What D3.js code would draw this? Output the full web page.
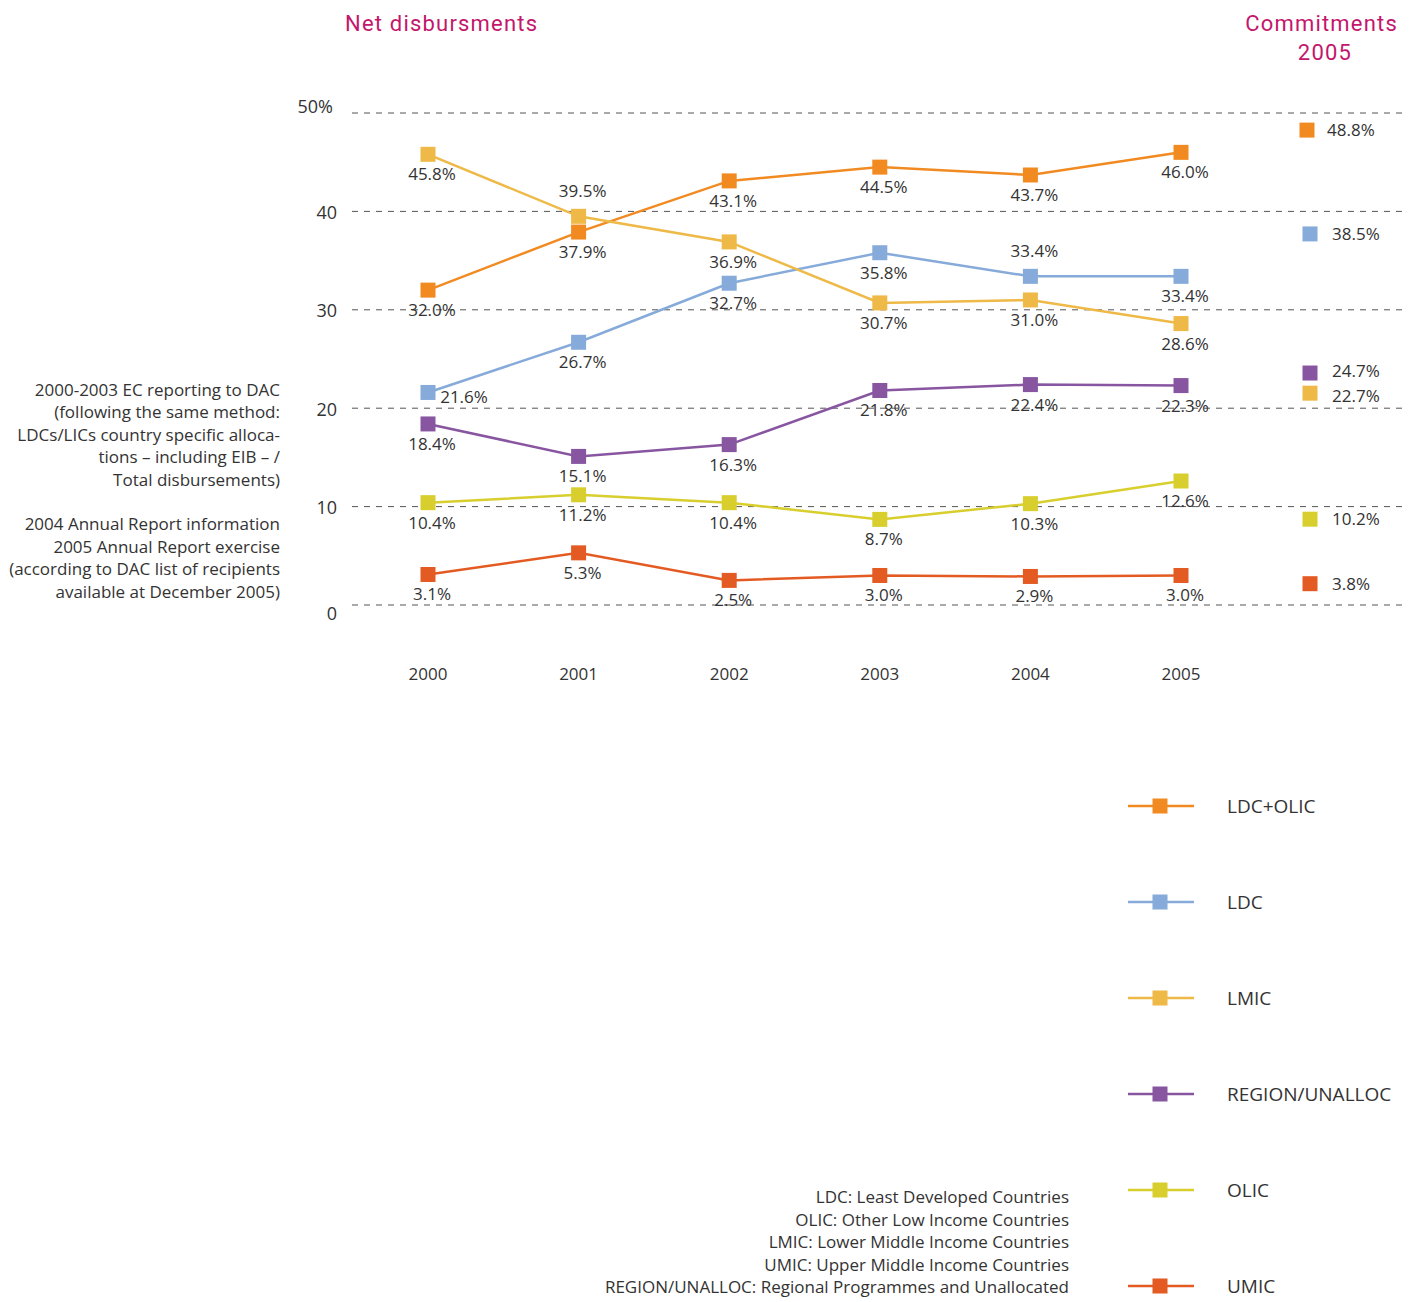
<!DOCTYPE html>
<html>
<head>
<meta charset="utf-8">
<script src="https://cdn.jsdelivr.net/npm/d3@7"></script>
<style>
  html, body { margin: 0; padding: 0; background: #fff; }
  svg { display: block; font-family: "Open Sans", "DejaVu Sans", sans-serif; }
</style>
</head>
<body>
<svg id="chart" width="1409" height="1302"></svg>
<script>
// Years on the x axis
const years = ["2000", "2001", "2002", "2003", "2004", "2005"];

// Share of net disbursements (%) per income group
const ldcOlic = [32.0, 37.9, 43.1, 44.5, 43.7, 46.0];
const ldc     = [21.6, 26.7, 32.7, 35.8, 33.4, 33.4];
const lmic    = [45.8, 39.5, 36.9, 30.7, 31.0, 28.6];
const region  = [18.4, 15.1, 16.3, 21.8, 22.4, 22.3];
const olic    = [10.4, 11.2, 10.4, 8.7, 10.3, 12.6];
const umic    = [3.1, 5.3, 2.5, 3.0, 2.9, 3.0];

// Commitments 2005 (%)
const commitments = [48.8, 38.5, 22.7, 24.7, 10.2, 3.8];

// Series names
const seriesNames = ["LDC+OLIC", "LDC", "LMIC", "REGION/UNALLOC", "OLIC", "UMIC"];

// Y axis ticks
const yTicks = [0, 10, 20, 30, 40, 50];

const colors = ["#f28a22", "#86aad9", "#eeb947", "#8856a1", "#d8cf2f", "#e35b22"];

const notesLeft = [
  "2000-2003 EC reporting to DAC",
  "(following the same method:",
  "LDCs/LICs country specific alloca-",
  "tions \u2013 including EIB \u2013 /",
  "Total disbursements)",
  "",
  "2004 Annual Report information",
  "2005 Annual Report exercise",
  "(according to DAC list of recipients",
  "available at December 2005)"
];

const glossary = [
  "LDC: Least Developed Countries",
  "OLIC: Other Low Income Countries",
  "LMIC: Lower Middle Income Countries",
  "UMIC: Upper Middle Income Countries",
  "REGION/UNALLOC: Regional Programmes and Unallocated"
];

const seriesValues = [ldcOlic, ldc, lmic, region, olic, umic];
const series = seriesNames.map((name, i) => ({
  name, color: colors[i], values: seriesValues[i], commit: commitments[i]
}));

// Labels drawn above their marker instead of below
const labelAbove = { "LMIC": [1], "LDC": [4] };

const svg = d3.select("#chart");
const textColor = "#333";

const x = d3.scalePoint().domain(years).range([428, 1181]);
const y = d3.scaleLinear().domain([0, 50]).range([605, 113]);
// The commitments column is laid out on its own vertical scale
const yCommit = d3.scaleLinear().domain([0, 50]).range([622, 118]);
const commitX = 1307;

// Titles
const titleStyle = sel => sel.attr("fill", "#c3166c")
  .attr("font-family", "Roboto, sans-serif")
  .attr("font-size", 22).attr("letter-spacing", 1.2);
svg.append("text").attr("x", 345).attr("y", 31).call(titleStyle)
  .text("Net disbursments");
svg.append("text").attr("x", 1398).attr("y", 31).attr("text-anchor", "end")
  .call(titleStyle).text("Commitments");
svg.append("text").attr("x", 1325).attr("y", 60).attr("text-anchor", "middle")
  .call(titleStyle).text("2005");

// Dashed grid lines and y tick labels
const grid = svg.append("g");
grid.selectAll("line").data(yTicks).join("line")
  .attr("x1", 352).attr("x2", 1402)
  .attr("y1", d => y(d)).attr("y2", d => y(d))
  .attr("stroke", "#555").attr("stroke-width", 1)
  .attr("stroke-dasharray", "6,6");
grid.selectAll("text").data(yTicks).join("text")
  .attr("x", d => d === 50 ? 333 : 337)
  .attr("y", d => y(d) + (d === 50 ? -6 : d === 0 ? 9 : 1))
  .attr("dy", "0.35em").attr("text-anchor", "end")
  .attr("font-size", 18).attr("fill", textColor)
  .text(d => d === 50 ? "50%" : d);

// X axis year labels
svg.append("g").selectAll("text").data(years).join("text")
  .attr("x", d => x(d)).attr("y", 680)
  .attr("text-anchor", "middle").attr("font-size", 17).attr("fill", textColor)
  .text(d => d);

// Lines
const line = d3.line().x((d, i) => x(years[i])).y(d => y(d));
const M = 15;
const plot = svg.append("g");
series.forEach(s => {
  plot.append("path").datum(s.values)
    .attr("d", line).attr("fill", "none")
    .attr("stroke", s.color).attr("stroke-width", 2.5);
});
// Markers
series.forEach(s => {
  plot.append("g").selectAll("rect").data(s.values).join("rect")
    .attr("x", (d, i) => x(years[i]) - M / 2)
    .attr("y", d => y(d) - M / 2)
    .attr("width", M).attr("height", M)
    .attr("fill", s.color);
});
// Value labels
series.forEach(s => {
  const above = labelAbove[s.name] || [];
  plot.append("g").selectAll("text").data(s.values).join("text")
    .attr("x", (d, i) => x(years[i]) + (s.name === "LDC" && i === 0 ? 36 : 4))
    .attr("y", (d, i) => y(d) + (above.includes(i) ? -19 : (s.name === "LDC" && i === 0 ? 11 : 26)))
    .attr("text-anchor", "middle").attr("font-size", 17).attr("fill", textColor)
    .text(d => d.toFixed(1) + "%");
});

// Commitments 2005 column: markers on the scale, labels spread apart when crowded
const commitItems = series.map(s => ({ s, ym: yCommit(s.commit), yl: yCommit(s.commit) }))
  .sort((a, b) => a.ym - b.ym);
const minGap = 25;
for (let i = 1; i < commitItems.length; i++) {
  const gap = commitItems[i].yl - commitItems[i - 1].yl;
  if (gap < minGap) {
    const push = (minGap - gap) / 2;
    commitItems[i - 1].yl -= push;
    commitItems[i].yl += push;
  }
}
const com = svg.append("g");
commitItems.forEach(({ s, ym, yl }) => {
  com.append("rect")
    .attr("x", commitX - M / 2 + (s.name === "LDC+OLIC" ? 0 : 3))
    .attr("y", ym - M / 2)
    .attr("width", M).attr("height", M).attr("fill", s.color);
  com.append("text")
    .attr("x", commitX + (s.name === "LDC+OLIC" ? 20 : 25)).attr("y", yl)
    .attr("dy", "0.35em").attr("font-size", 17).attr("fill", textColor)
    .text(s.commit.toFixed(1) + "%");
});

// Left notes
svg.append("g").selectAll("text").data(notesLeft).join("text")
  .attr("x", 280).attr("y", (d, i) => 396 + i * 22.4)
  .attr("text-anchor", "end").attr("font-size", 17).attr("fill", textColor)
  .text(d => d);

// Legend
const ly = d3.scalePoint().domain(seriesNames).range([806, 1286]);
const legend = svg.append("g");
series.forEach(s => {
  const g = legend.append("g").attr("transform", `translate(0,${ly(s.name)})`);
  g.append("line").attr("x1", 1128).attr("x2", 1194).attr("y1", 0).attr("y2", 0)
    .attr("stroke", s.color).attr("stroke-width", 2.5);
  g.append("rect").attr("x", 1160 - M / 2).attr("y", -M / 2)
    .attr("width", M).attr("height", M).attr("fill", s.color);
  g.append("text").attr("x", 1227).attr("y", 0).attr("dy", "0.35em")
    .attr("font-size", 19).attr("fill", textColor).text(s.name);
});

// Glossary
svg.append("g").selectAll("text").data(glossary).join("text")
  .attr("x", 1069).attr("y", (d, i) => 1203 + i * 22.5)
  .attr("text-anchor", "end").attr("font-size", 17).attr("fill", textColor)
  .text(d => d);
</script>
</body>
</html>
